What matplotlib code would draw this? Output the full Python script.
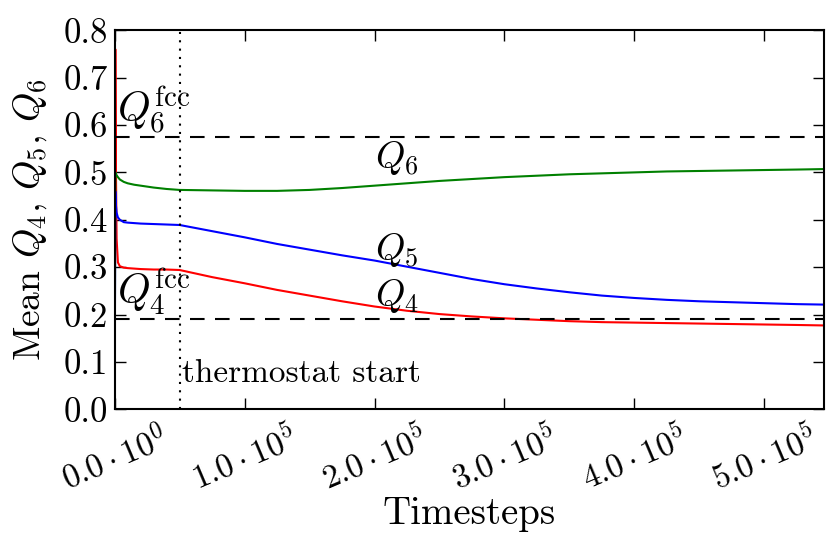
import matplotlib
matplotlib.use("Agg")
import matplotlib.pyplot as plt
from matplotlib.ticker import FuncFormatter, MultipleLocator

plt.rcParams['font.family'] = ['cmr10', 'DejaVu Serif']
plt.rcParams['mathtext.fontset'] = 'cm'
plt.rcParams['axes.formatter.use_mathtext'] = True

# timesteps and mean bond order parameters
timesteps = [0, 500, 1000, 1500, 2500, 4000, 7000, 10000, 15000, 20000, 30000,
             40000, 50000, 75000, 100000, 125000, 150000, 175000, 200000,
             225000, 250000, 275000, 300000, 325000, 350000, 375000, 400000,
             425000, 450000, 475000, 500000, 525000, 546000]
q4 = [0.0, 0.76, 0.50, 0.36, 0.31, 0.302, 0.299, 0.298, 0.297, 0.296, 0.295,
      0.295, 0.294, 0.279, 0.266, 0.252, 0.240, 0.228, 0.217, 0.208, 0.201,
      0.196, 0.192, 0.189, 0.186, 0.184, 0.183, 0.182, 0.181, 0.180, 0.179,
      0.178, 0.177]
q5 = [0.0, 0.46, 0.43, 0.415, 0.405, 0.400, 0.395, 0.394, 0.393, 0.392, 0.391,
      0.390, 0.389, 0.376, 0.363, 0.349, 0.337, 0.325, 0.314, 0.301, 0.288,
      0.275, 0.264, 0.255, 0.247, 0.240, 0.235, 0.231, 0.228, 0.226, 0.224,
      0.222, 0.221]
q6 = [0.0, 0.50, 0.497, 0.494, 0.490, 0.485, 0.480, 0.477, 0.474, 0.472, 0.468,
      0.465, 0.463, 0.462, 0.461, 0.461, 0.463, 0.467, 0.472, 0.477, 0.482,
      0.486, 0.490, 0.493, 0.496, 0.498, 0.500, 0.502, 0.503, 0.504, 0.505,
      0.506, 0.507]

q4_fcc = 0.19094
q6_fcc = 0.57452
thermostat_start = 50000

fig = plt.figure(figsize=(8.4, 5.4), dpi=100)
ax = fig.add_axes([0.1365, 0.242, 0.8445, 0.702])

ax.plot(timesteps, q4, color='r', lw=1.5)
ax.plot(timesteps, q6, color=(0, 0.5, 0), lw=1.5)
ax.plot(timesteps, q5, color='b', lw=1.5)

ax.axhline(q6_fcc, color='k', lw=1.5, dashes=(7, 5))
ax.axhline(q4_fcc, color='k', lw=1.5, dashes=(7, 5))
ax.axvline(thermostat_start, color='k', lw=1.5, linestyle=(0, (1, 3)))

ax.text(1500, q6_fcc + 0.03, r'$Q_6^{\rm fcc}$', fontsize=30)
ax.text(1500, q4_fcc + 0.03, r'$Q_4^{\rm fcc}$', fontsize=30)
ax.text(200000, 0.51, r'$Q_6$', fontsize=27)
ax.text(200000, 0.315, r'$Q_5$', fontsize=27)
ax.text(200000, 0.218, r'$Q_4$', fontsize=27)
ax.text(thermostat_start + 1500, 0.058, 'thermostat start', fontsize=24)

ax.set_xlim(0, 546000)
ax.set_ylim(0, 0.8)
ax.xaxis.set_major_locator(MultipleLocator(100000))
ax.yaxis.set_major_locator(MultipleLocator(0.1))


def sci(v, pos):
    if v == 0:
        return r'$0.0 \cdot 10^{0}$'
    e = len(str(int(abs(v)))) - 1
    return r'$%.1f \cdot 10^{%d}$' % (v / 10 ** e, e)


ax.xaxis.set_major_formatter(FuncFormatter(sci))
ax.yaxis.set_major_formatter(FuncFormatter(lambda v, p: '%.1f' % v))
ax.tick_params(direction='in', top=True, right=True, length=8, width=1)
ax.tick_params(axis='x', labelsize=24, pad=8)
ax.tick_params(axis='y', labelsize=25, pad=5)
for lab in ax.get_xticklabels():
    lab.set_rotation(23)
for s in ax.spines.values():
    s.set_linewidth(1.5)

ax.set_xlabel('Timesteps', fontsize=28, labelpad=0)
ax.set_ylabel(r'Mean $Q_4$, $Q_5$, $Q_6$', fontsize=27, labelpad=10)

fig.savefig('out.png', dpi=100)
